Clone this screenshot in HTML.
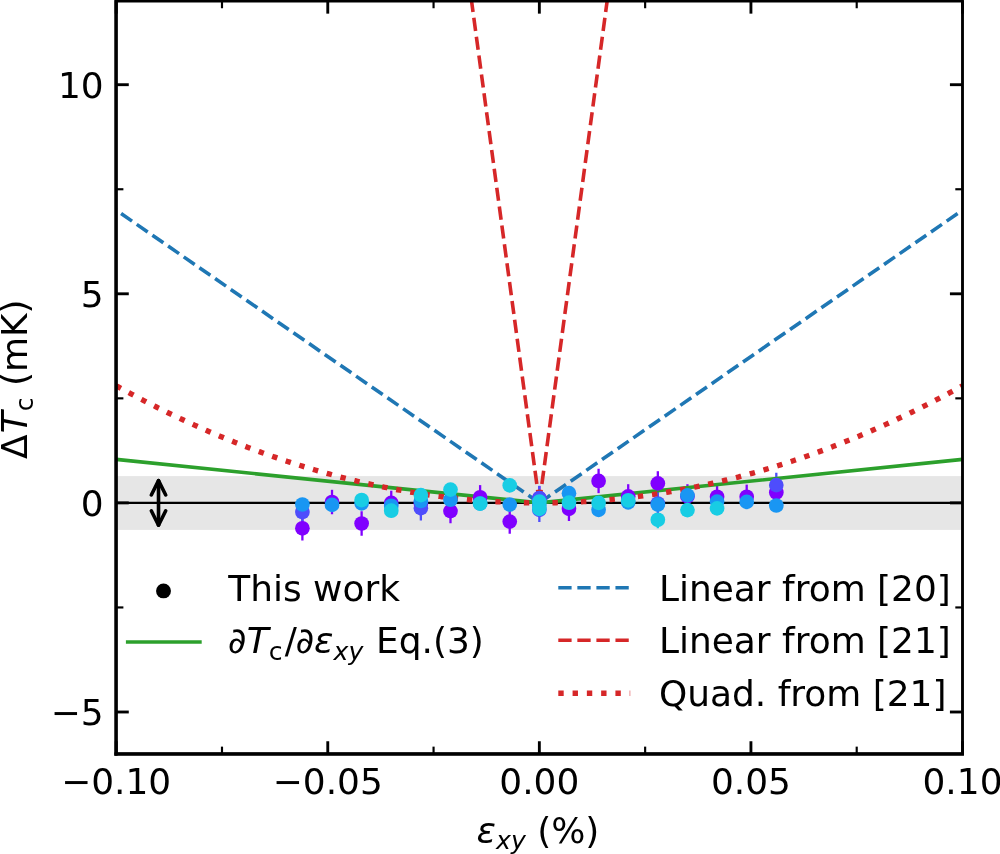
<!DOCTYPE html>
<html><head><meta charset="utf-8"><title>Tc vs strain</title>
<style>html,body{margin:0;padding:0;background:#fff}svg{display:block;will-change:transform}</style></head>
<body>
<svg width="1000" height="854" viewBox="0 0 1000 854" font-family="'DejaVu Sans','Liberation Sans',sans-serif" font-size="35.94" fill="#000">
<rect width="1000" height="854" fill="#fff"/>
<defs><clipPath id="ax"><rect x="116.20" y="1.06" width="846.30" height="752.76"/></clipPath></defs>
<g clip-path="url(#ax)">
<rect x="116.20" y="476.1" width="846.30" height="53.80" fill="#e6e6e6"/>
<line x1="116.20" x2="962.50" y1="502.9" y2="502.9" stroke="#000" stroke-width="2.1"/>
<line x1="302.39" x2="302.39" y1="516.10" y2="540.50" stroke="#8000ff" stroke-width="2.3"/>
<line x1="332.01" x2="332.01" y1="489.80" y2="514.20" stroke="#8000ff" stroke-width="2.3"/>
<line x1="361.63" x2="361.63" y1="511.30" y2="535.70" stroke="#8000ff" stroke-width="2.3"/>
<line x1="391.25" x2="391.25" y1="490.70" y2="515.10" stroke="#8000ff" stroke-width="2.3"/>
<line x1="420.87" x2="420.87" y1="491.30" y2="515.70" stroke="#8000ff" stroke-width="2.3"/>
<line x1="450.49" x2="450.49" y1="498.90" y2="523.30" stroke="#8000ff" stroke-width="2.3"/>
<line x1="480.11" x2="480.11" y1="485.10" y2="509.50" stroke="#8000ff" stroke-width="2.3"/>
<line x1="509.73" x2="509.73" y1="509.40" y2="533.80" stroke="#8000ff" stroke-width="2.3"/>
<line x1="539.35" x2="539.35" y1="486.10" y2="510.50" stroke="#8000ff" stroke-width="2.3"/>
<line x1="568.97" x2="568.97" y1="496.60" y2="521.00" stroke="#8000ff" stroke-width="2.3"/>
<line x1="598.59" x2="598.59" y1="468.75" y2="493.15" stroke="#8000ff" stroke-width="2.3"/>
<line x1="628.21" x2="628.21" y1="484.20" y2="508.60" stroke="#8000ff" stroke-width="2.3"/>
<line x1="657.83" x2="657.83" y1="471.20" y2="495.60" stroke="#8000ff" stroke-width="2.3"/>
<line x1="687.45" x2="687.45" y1="484.20" y2="508.60" stroke="#8000ff" stroke-width="2.3"/>
<line x1="717.07" x2="717.07" y1="484.60" y2="509.00" stroke="#8000ff" stroke-width="2.3"/>
<line x1="746.69" x2="746.69" y1="484.60" y2="509.00" stroke="#8000ff" stroke-width="2.3"/>
<line x1="776.31" x2="776.31" y1="480.30" y2="504.70" stroke="#8000ff" stroke-width="2.3"/>
<line x1="302.39" x2="302.39" y1="499.70" y2="524.30" stroke="#4e4dfc" stroke-width="2.3"/>
<line x1="420.87" x2="420.87" y1="495.80" y2="520.40" stroke="#4e4dfc" stroke-width="2.3"/>
<line x1="539.35" x2="539.35" y1="485.80" y2="510.40" stroke="#4e4dfc" stroke-width="2.3"/>
<line x1="539.35" x2="539.35" y1="497.50" y2="522.10" stroke="#4e4dfc" stroke-width="2.3"/>
<line x1="657.83" x2="657.83" y1="491.20" y2="515.80" stroke="#4e4dfc" stroke-width="2.3"/>
<line x1="776.31" x2="776.31" y1="472.80" y2="497.40" stroke="#4e4dfc" stroke-width="2.3"/>
<line x1="302.39" x2="302.39" y1="498.50" y2="510.50" stroke="#1996f3" stroke-width="2.3"/>
<line x1="332.01" x2="332.01" y1="498.90" y2="510.90" stroke="#1996f3" stroke-width="2.3"/>
<line x1="361.63" x2="361.63" y1="497.30" y2="509.30" stroke="#1996f3" stroke-width="2.3"/>
<line x1="391.25" x2="391.25" y1="499.80" y2="511.80" stroke="#1996f3" stroke-width="2.3"/>
<line x1="420.87" x2="420.87" y1="495.00" y2="507.00" stroke="#1996f3" stroke-width="2.3"/>
<line x1="450.49" x2="450.49" y1="493.70" y2="505.70" stroke="#1996f3" stroke-width="2.3"/>
<line x1="480.11" x2="480.11" y1="497.50" y2="509.50" stroke="#1996f3" stroke-width="2.3"/>
<line x1="509.73" x2="509.73" y1="498.60" y2="510.60" stroke="#1996f3" stroke-width="2.3"/>
<line x1="539.35" x2="539.35" y1="499.00" y2="511.00" stroke="#1996f3" stroke-width="2.3"/>
<line x1="568.97" x2="568.97" y1="487.20" y2="499.20" stroke="#1996f3" stroke-width="2.3"/>
<line x1="598.59" x2="598.59" y1="503.80" y2="515.80" stroke="#1996f3" stroke-width="2.3"/>
<line x1="628.21" x2="628.21" y1="496.30" y2="508.30" stroke="#1996f3" stroke-width="2.3"/>
<line x1="657.83" x2="657.83" y1="498.60" y2="510.60" stroke="#1996f3" stroke-width="2.3"/>
<line x1="687.45" x2="687.45" y1="489.40" y2="501.40" stroke="#1996f3" stroke-width="2.3"/>
<line x1="717.07" x2="717.07" y1="495.60" y2="507.60" stroke="#1996f3" stroke-width="2.3"/>
<line x1="746.69" x2="746.69" y1="495.90" y2="507.90" stroke="#1996f3" stroke-width="2.3"/>
<line x1="776.31" x2="776.31" y1="499.50" y2="511.50" stroke="#1996f3" stroke-width="2.3"/>
<line x1="361.63" x2="361.63" y1="493.55" y2="506.55" stroke="#18cde4" stroke-width="2.3"/>
<line x1="391.25" x2="391.25" y1="504.20" y2="517.20" stroke="#18cde4" stroke-width="2.3"/>
<line x1="420.87" x2="420.87" y1="488.60" y2="501.60" stroke="#18cde4" stroke-width="2.3"/>
<line x1="450.49" x2="450.49" y1="483.10" y2="496.10" stroke="#18cde4" stroke-width="2.3"/>
<line x1="480.11" x2="480.11" y1="497.10" y2="510.10" stroke="#18cde4" stroke-width="2.3"/>
<line x1="509.73" x2="509.73" y1="478.90" y2="491.90" stroke="#18cde4" stroke-width="2.3"/>
<line x1="539.35" x2="539.35" y1="495.10" y2="508.10" stroke="#18cde4" stroke-width="2.3"/>
<line x1="539.35" x2="539.35" y1="502.30" y2="515.30" stroke="#18cde4" stroke-width="2.3"/>
<line x1="568.97" x2="568.97" y1="496.20" y2="509.20" stroke="#18cde4" stroke-width="2.3"/>
<line x1="598.59" x2="598.59" y1="496.40" y2="509.40" stroke="#18cde4" stroke-width="2.3"/>
<line x1="628.21" x2="628.21" y1="493.80" y2="506.80" stroke="#18cde4" stroke-width="2.3"/>
<line x1="657.83" x2="657.83" y1="513.30" y2="526.30" stroke="#18cde4" stroke-width="2.3"/>
<line x1="687.45" x2="687.45" y1="503.60" y2="516.60" stroke="#18cde4" stroke-width="2.3"/>
<line x1="717.07" x2="717.07" y1="501.90" y2="514.90" stroke="#18cde4" stroke-width="2.3"/>
<line x1="657.83" x2="657.83" y1="519.8" y2="528.2" stroke="#18cde4" stroke-width="2.3"/>
<path d="M539.35 502.90 L73.89 180.89" stroke="#1f77b4" stroke-width="3.59" stroke-dasharray="13.30 5.75" fill="none"/>
<path d="M539.35 502.90 L1004.82 180.89" stroke="#1f77b4" stroke-width="3.59" stroke-dasharray="13.30 5.75" fill="none"/>
<path d="M539.35 502.90 L454.72 -123.56" stroke="#d62728" stroke-width="3.59" stroke-dasharray="13.30 5.75" fill="none"/>
<path d="M539.35 502.90 L623.98 -123.56" stroke="#d62728" stroke-width="3.59" stroke-dasharray="13.30 5.75" fill="none"/>
<path d="M116.20 459.41 L539.35 502.90 L962.50 459.41" stroke="#2ca02c" stroke-width="3.59" fill="none" stroke-linejoin="round"/>
<path d="M116.20 385.80 L118.32 386.97 L120.43 388.13 L122.55 389.29 L124.66 390.44 L126.78 391.59 L128.89 392.72 L131.01 393.86 L133.13 394.98 L135.24 396.11 L137.36 397.22 L139.47 398.33 L141.59 399.43 L143.70 400.53 L145.82 401.62 L147.94 402.71 L150.05 403.79 L152.17 404.86 L154.28 405.93 L156.40 407.00 L158.51 408.05 L160.63 409.10 L162.75 410.15 L164.86 411.19 L166.98 412.22 L169.09 413.25 L171.21 414.27 L173.33 415.29 L175.44 416.30 L177.56 417.30 L179.67 418.30 L181.79 419.29 L183.90 420.28 L186.02 421.26 L188.14 422.23 L190.25 423.20 L192.37 424.16 L194.48 425.12 L196.60 426.07 L198.71 427.02 L200.83 427.96 L202.95 428.89 L205.06 429.82 L207.18 430.74 L209.29 431.66 L211.41 432.57 L213.52 433.47 L215.64 434.37 L217.76 435.27 L219.87 436.15 L221.99 437.03 L224.10 437.91 L226.22 438.78 L228.33 439.64 L230.45 440.50 L232.57 441.35 L234.68 442.20 L236.80 443.04 L238.91 443.87 L241.03 444.70 L243.14 445.52 L245.26 446.34 L247.38 447.15 L249.49 447.96 L251.61 448.75 L253.72 449.55 L255.84 450.34 L257.96 451.12 L260.07 451.89 L262.19 452.66 L264.30 453.43 L266.42 454.19 L268.53 454.94 L270.65 455.68 L272.77 456.42 L274.88 457.16 L277.00 457.89 L279.11 458.61 L281.23 459.33 L283.34 460.04 L285.46 460.75 L287.58 461.45 L289.69 462.14 L291.81 462.83 L293.92 463.51 L296.04 464.19 L298.15 464.86 L300.27 465.52 L302.39 466.18 L304.50 466.83 L306.62 467.48 L308.73 468.12 L310.85 468.75 L312.96 469.38 L315.08 470.01 L317.20 470.63 L319.31 471.24 L321.43 471.84 L323.54 472.44 L325.66 473.04 L327.77 473.63 L329.89 474.21 L332.01 474.79 L334.12 475.36 L336.24 475.92 L338.35 476.48 L340.47 477.03 L342.59 477.58 L344.70 478.12 L346.82 478.66 L348.93 479.19 L351.05 479.71 L353.16 480.23 L355.28 480.74 L357.40 481.25 L359.51 481.75 L361.63 482.24 L363.74 482.73 L365.86 483.22 L367.97 483.69 L370.09 484.16 L372.21 484.63 L374.32 485.09 L376.44 485.54 L378.55 485.99 L380.67 486.43 L382.78 486.87 L384.90 487.30 L387.02 487.72 L389.13 488.14 L391.25 488.56 L393.36 488.96 L395.48 489.36 L397.59 489.76 L399.71 490.15 L401.83 490.53 L403.94 490.91 L406.06 491.28 L408.17 491.65 L410.29 492.01 L412.41 492.36 L414.52 492.71 L416.64 493.05 L418.75 493.39 L420.87 493.72 L422.98 494.04 L425.10 494.36 L427.22 494.68 L429.33 494.98 L431.45 495.29 L433.56 495.58 L435.68 495.87 L437.79 496.16 L439.91 496.43 L442.03 496.71 L444.14 496.97 L446.26 497.23 L448.37 497.49 L450.49 497.74 L452.60 497.98 L454.72 498.22 L456.84 498.45 L458.95 498.67 L461.07 498.89 L463.18 499.11 L465.30 499.31 L467.41 499.52 L469.53 499.71 L471.65 499.90 L473.76 500.09 L475.88 500.27 L477.99 500.44 L480.11 500.60 L482.22 500.77 L484.34 500.92 L486.46 501.07 L488.57 501.21 L490.69 501.35 L492.80 501.48 L494.92 501.61 L497.03 501.73 L499.15 501.84 L501.27 501.95 L503.38 502.05 L505.50 502.15 L507.61 502.24 L509.73 502.33 L511.85 502.41 L513.96 502.48 L516.08 502.55 L518.19 502.61 L520.31 502.66 L522.42 502.71 L524.54 502.76 L526.66 502.79 L528.77 502.83 L530.89 502.85 L533.00 502.87 L535.12 502.89 L537.23 502.90 L539.35 502.90 L541.47 502.90 L543.58 502.89 L545.70 502.87 L547.81 502.85 L549.93 502.83 L552.04 502.79 L554.16 502.76 L556.28 502.71 L558.39 502.66 L560.51 502.61 L562.62 502.55 L564.74 502.48 L566.85 502.41 L568.97 502.33 L571.09 502.24 L573.20 502.15 L575.32 502.05 L577.43 501.95 L579.55 501.84 L581.66 501.73 L583.78 501.61 L585.90 501.48 L588.01 501.35 L590.13 501.21 L592.24 501.07 L594.36 500.92 L596.48 500.77 L598.59 500.60 L600.71 500.44 L602.82 500.27 L604.94 500.09 L607.05 499.90 L609.17 499.71 L611.29 499.52 L613.40 499.31 L615.52 499.11 L617.63 498.89 L619.75 498.67 L621.86 498.45 L623.98 498.22 L626.10 497.98 L628.21 497.74 L630.33 497.49 L632.44 497.23 L634.56 496.97 L636.67 496.71 L638.79 496.43 L640.91 496.16 L643.02 495.87 L645.14 495.58 L647.25 495.29 L649.37 494.98 L651.48 494.68 L653.60 494.36 L655.72 494.04 L657.83 493.72 L659.95 493.39 L662.06 493.05 L664.18 492.71 L666.30 492.36 L668.41 492.01 L670.53 491.65 L672.64 491.28 L674.76 490.91 L676.87 490.53 L678.99 490.15 L681.11 489.76 L683.22 489.36 L685.34 488.96 L687.45 488.56 L689.57 488.14 L691.68 487.72 L693.80 487.30 L695.92 486.87 L698.03 486.43 L700.15 485.99 L702.26 485.54 L704.38 485.09 L706.49 484.63 L708.61 484.16 L710.73 483.69 L712.84 483.22 L714.96 482.73 L717.07 482.24 L719.19 481.75 L721.30 481.25 L723.42 480.74 L725.54 480.23 L727.65 479.71 L729.77 479.19 L731.88 478.66 L734.00 478.12 L736.11 477.58 L738.23 477.03 L740.35 476.48 L742.46 475.92 L744.58 475.36 L746.69 474.79 L748.81 474.21 L750.92 473.63 L753.04 473.04 L755.16 472.44 L757.27 471.84 L759.39 471.24 L761.50 470.63 L763.62 470.01 L765.74 469.38 L767.85 468.75 L769.97 468.12 L772.08 467.48 L774.20 466.83 L776.31 466.18 L778.43 465.52 L780.55 464.86 L782.66 464.19 L784.78 463.51 L786.89 462.83 L789.01 462.14 L791.12 461.45 L793.24 460.75 L795.36 460.04 L797.47 459.33 L799.59 458.61 L801.70 457.89 L803.82 457.16 L805.93 456.42 L808.05 455.68 L810.17 454.94 L812.28 454.19 L814.40 453.43 L816.51 452.66 L818.63 451.89 L820.74 451.12 L822.86 450.34 L824.98 449.55 L827.09 448.75 L829.21 447.96 L831.32 447.15 L833.44 446.34 L835.56 445.52 L837.67 444.70 L839.79 443.87 L841.90 443.04 L844.02 442.20 L846.13 441.35 L848.25 440.50 L850.37 439.64 L852.48 438.78 L854.60 437.91 L856.71 437.03 L858.83 436.15 L860.94 435.27 L863.06 434.37 L865.18 433.47 L867.29 432.57 L869.41 431.66 L871.52 430.74 L873.64 429.82 L875.75 428.89 L877.87 427.96 L879.99 427.02 L882.10 426.07 L884.22 425.12 L886.33 424.16 L888.45 423.20 L890.56 422.23 L892.68 421.26 L894.80 420.28 L896.91 419.29 L899.03 418.30 L901.14 417.30 L903.26 416.30 L905.37 415.29 L907.49 414.27 L909.61 413.25 L911.72 412.22 L913.84 411.19 L915.95 410.15 L918.07 409.10 L920.18 408.05 L922.30 407.00 L924.42 405.93 L926.53 404.86 L928.65 403.79 L930.76 402.71 L932.88 401.62 L935.00 400.53 L937.11 399.43 L939.23 398.33 L941.34 397.22 L943.46 396.11 L945.57 394.98 L947.69 393.86 L949.81 392.72 L951.92 391.59 L954.04 390.44 L956.15 389.29 L958.27 388.13 L960.38 386.97 L962.50 385.80" stroke="#d62728" stroke-width="5.39" stroke-dasharray="5.39 8.89" fill="none"/>
<circle cx="302.39" cy="528.30" r="7.35" fill="#8000ff"/>
<circle cx="332.01" cy="502.00" r="7.35" fill="#8000ff"/>
<circle cx="361.63" cy="523.50" r="7.35" fill="#8000ff"/>
<circle cx="391.25" cy="502.90" r="7.35" fill="#8000ff"/>
<circle cx="420.87" cy="503.50" r="7.35" fill="#8000ff"/>
<circle cx="450.49" cy="511.10" r="7.35" fill="#8000ff"/>
<circle cx="480.11" cy="497.30" r="7.35" fill="#8000ff"/>
<circle cx="509.73" cy="521.60" r="7.35" fill="#8000ff"/>
<circle cx="539.35" cy="498.30" r="7.35" fill="#8000ff"/>
<circle cx="568.97" cy="508.80" r="7.35" fill="#8000ff"/>
<circle cx="598.59" cy="480.95" r="7.35" fill="#8000ff"/>
<circle cx="628.21" cy="496.40" r="7.35" fill="#8000ff"/>
<circle cx="657.83" cy="483.40" r="7.35" fill="#8000ff"/>
<circle cx="687.45" cy="496.40" r="7.35" fill="#8000ff"/>
<circle cx="717.07" cy="496.80" r="7.35" fill="#8000ff"/>
<circle cx="746.69" cy="496.80" r="7.35" fill="#8000ff"/>
<circle cx="776.31" cy="492.50" r="7.35" fill="#8000ff"/>
<circle cx="302.39" cy="512.00" r="7.35" fill="#4e4dfc"/>
<circle cx="420.87" cy="508.10" r="7.35" fill="#4e4dfc"/>
<circle cx="539.35" cy="498.10" r="7.35" fill="#4e4dfc"/>
<circle cx="539.35" cy="509.80" r="7.35" fill="#4e4dfc"/>
<circle cx="657.83" cy="503.50" r="7.35" fill="#4e4dfc"/>
<circle cx="776.31" cy="485.10" r="7.35" fill="#4e4dfc"/>
<circle cx="302.39" cy="504.50" r="7.35" fill="#1996f3"/>
<circle cx="332.01" cy="504.90" r="7.35" fill="#1996f3"/>
<circle cx="361.63" cy="503.30" r="7.35" fill="#1996f3"/>
<circle cx="391.25" cy="505.80" r="7.35" fill="#1996f3"/>
<circle cx="420.87" cy="501.00" r="7.35" fill="#1996f3"/>
<circle cx="450.49" cy="499.70" r="7.35" fill="#1996f3"/>
<circle cx="480.11" cy="503.50" r="7.35" fill="#1996f3"/>
<circle cx="509.73" cy="504.60" r="7.35" fill="#1996f3"/>
<circle cx="539.35" cy="505.00" r="7.35" fill="#1996f3"/>
<circle cx="568.97" cy="493.20" r="7.35" fill="#1996f3"/>
<circle cx="598.59" cy="509.80" r="7.35" fill="#1996f3"/>
<circle cx="628.21" cy="502.30" r="7.35" fill="#1996f3"/>
<circle cx="657.83" cy="504.60" r="7.35" fill="#1996f3"/>
<circle cx="687.45" cy="495.40" r="7.35" fill="#1996f3"/>
<circle cx="717.07" cy="501.60" r="7.35" fill="#1996f3"/>
<circle cx="746.69" cy="501.90" r="7.35" fill="#1996f3"/>
<circle cx="776.31" cy="505.50" r="7.35" fill="#1996f3"/>
<circle cx="361.63" cy="500.05" r="7.35" fill="#18cde4"/>
<circle cx="391.25" cy="510.70" r="7.35" fill="#18cde4"/>
<circle cx="420.87" cy="495.10" r="7.35" fill="#18cde4"/>
<circle cx="450.49" cy="489.60" r="7.35" fill="#18cde4"/>
<circle cx="480.11" cy="503.60" r="7.35" fill="#18cde4"/>
<circle cx="509.73" cy="485.40" r="7.35" fill="#18cde4"/>
<circle cx="539.35" cy="501.60" r="7.35" fill="#18cde4"/>
<circle cx="539.35" cy="508.80" r="7.35" fill="#18cde4"/>
<circle cx="568.97" cy="502.70" r="7.35" fill="#18cde4"/>
<circle cx="598.59" cy="502.90" r="7.35" fill="#18cde4"/>
<circle cx="628.21" cy="500.30" r="7.35" fill="#18cde4"/>
<circle cx="657.83" cy="519.80" r="7.35" fill="#18cde4"/>
<circle cx="687.45" cy="510.10" r="7.35" fill="#18cde4"/>
<circle cx="717.07" cy="508.40" r="7.35" fill="#18cde4"/>
<g stroke="#000" stroke-width="3.59" fill="none" stroke-linecap="round" stroke-linejoin="round">
<path d="M158.52 480.6 L158.52 525.2"/>
<path d="M151.32 495.0 L158.52 480.6 L165.72 495.0"/>
<path d="M151.32 510.80000000000007 L158.52 525.2 L165.72 510.80000000000007"/>
</g>
</g>
<g stroke="#000">
<line x1="116.20" x2="116.20" y1="753.82" y2="741.24" stroke-width="2.87"/>
<line x1="116.20" x2="116.20" y1="1.06" y2="13.64" stroke-width="2.87"/>
<line x1="327.77" x2="327.77" y1="753.82" y2="741.24" stroke-width="2.87"/>
<line x1="327.77" x2="327.77" y1="1.06" y2="13.64" stroke-width="2.87"/>
<line x1="539.35" x2="539.35" y1="753.82" y2="741.24" stroke-width="2.87"/>
<line x1="539.35" x2="539.35" y1="1.06" y2="13.64" stroke-width="2.87"/>
<line x1="750.93" x2="750.93" y1="753.82" y2="741.24" stroke-width="2.87"/>
<line x1="750.93" x2="750.93" y1="1.06" y2="13.64" stroke-width="2.87"/>
<line x1="962.50" x2="962.50" y1="753.82" y2="741.24" stroke-width="2.87"/>
<line x1="962.50" x2="962.50" y1="1.06" y2="13.64" stroke-width="2.87"/>
<line x1="221.99" x2="221.99" y1="753.82" y2="746.63" stroke-width="2.16"/>
<line x1="221.99" x2="221.99" y1="1.06" y2="8.25" stroke-width="2.16"/>
<line x1="433.56" x2="433.56" y1="753.82" y2="746.63" stroke-width="2.16"/>
<line x1="433.56" x2="433.56" y1="1.06" y2="8.25" stroke-width="2.16"/>
<line x1="645.14" x2="645.14" y1="753.82" y2="746.63" stroke-width="2.16"/>
<line x1="645.14" x2="645.14" y1="1.06" y2="8.25" stroke-width="2.16"/>
<line x1="856.71" x2="856.71" y1="753.82" y2="746.63" stroke-width="2.16"/>
<line x1="856.71" x2="856.71" y1="1.06" y2="8.25" stroke-width="2.16"/>
<line y1="712.00" y2="712.00" x1="116.20" x2="128.78" stroke-width="2.87"/>
<line y1="712.00" y2="712.00" x1="962.50" x2="949.92" stroke-width="2.87"/>
<line y1="502.90" y2="502.90" x1="116.20" x2="128.78" stroke-width="2.87"/>
<line y1="502.90" y2="502.90" x1="962.50" x2="949.92" stroke-width="2.87"/>
<line y1="293.80" y2="293.80" x1="116.20" x2="128.78" stroke-width="2.87"/>
<line y1="293.80" y2="293.80" x1="962.50" x2="949.92" stroke-width="2.87"/>
<line y1="84.70" y2="84.70" x1="116.20" x2="128.78" stroke-width="2.87"/>
<line y1="84.70" y2="84.70" x1="962.50" x2="949.92" stroke-width="2.87"/>
<line y1="607.45" y2="607.45" x1="116.20" x2="123.39" stroke-width="2.16"/>
<line y1="607.45" y2="607.45" x1="962.50" x2="955.31" stroke-width="2.16"/>
<line y1="398.35" y2="398.35" x1="116.20" x2="123.39" stroke-width="2.16"/>
<line y1="398.35" y2="398.35" x1="962.50" x2="955.31" stroke-width="2.16"/>
<line y1="189.25" y2="189.25" x1="116.20" x2="123.39" stroke-width="2.16"/>
<line y1="189.25" y2="189.25" x1="962.50" x2="955.31" stroke-width="2.16"/>
</g>
<rect x="116.20" y="1.06" width="846.30" height="752.76" fill="none" stroke="#000" stroke-width="2.87"/>
<rect x="114.36" y="-0.38" width="3.27" height="756.10" fill="#000"/>
<rect x="114.36" y="752.38" width="849.57" height="3.34" fill="#000"/>
<text x="116.20" y="793.5" text-anchor="middle">−0.10</text>
<text x="327.77" y="793.5" text-anchor="middle">−0.05</text>
<text x="539.35" y="793.5" text-anchor="middle">0.00</text>
<text x="750.93" y="793.5" text-anchor="middle">0.05</text>
<text x="962.50" y="793.5" text-anchor="middle">0.10</text>
<text x="103.62" y="725.40" text-anchor="end">−5</text>
<text x="103.62" y="516.30" text-anchor="end">0</text>
<text x="103.62" y="307.20" text-anchor="end">5</text>
<text x="103.62" y="98.10" text-anchor="end">10</text>
<text y="842.9"><tspan x="476.5" font-style="oblique">ε</tspan><tspan x="496.0" dy="6.2" font-size="25.15" font-style="oblique">xy</tspan><tspan dy="-6.2"> (%)</tspan></text>
<text transform="translate(26.75 459.0) rotate(-90)"><tspan x="0">Δ</tspan><tspan dx="1.2" font-style="oblique">T</tspan><tspan dy="6.2" font-size="25.15">c</tspan><tspan dy="-6.2"> (mK)</tspan></text>
<circle cx="163.5" cy="590.9" r="7.45" fill="#000"/>
<line x1="127.7" x2="199.9" y1="642" y2="642" stroke="#2ca02c" stroke-width="3.59" stroke-linecap="square"/>
<line x1="558.3" x2="630.2" y1="587.7" y2="587.7" stroke="#1f77b4" stroke-width="3.59" stroke-dasharray="13.30 5.75"/>
<line x1="558.3" x2="630.2" y1="640.3" y2="640.3" stroke="#d62728" stroke-width="3.59" stroke-dasharray="13.30 5.75"/>
<line x1="558.3" x2="630.2" y1="693.3" y2="693.3" stroke="#d62728" stroke-width="5.39" stroke-dasharray="5.39 8.89"/>
<text x="228.3" y="600.5">This work</text>
<text y="653.3"><tspan x="227.7" font-style="oblique">∂</tspan><tspan x="246.8" font-style="oblique">T</tspan><tspan x="268.8" dy="6.2" font-size="25.15">c</tspan><tspan x="284.8" dy="-6.2">/</tspan><tspan x="295.5" font-style="oblique">∂ε</tspan><tspan x="333.5" dy="6.2" font-size="25.15" font-style="oblique">xy</tspan><tspan x="364.6" dy="-6.2"> Eq.(3)</tspan></text>
<text x="659" y="601.0">Linear from [20]</text>
<text x="659" y="653.4">Linear from [21]</text>
<text x="659" y="706.0">Quad. from [21]</text>
</svg>
</body></html>
